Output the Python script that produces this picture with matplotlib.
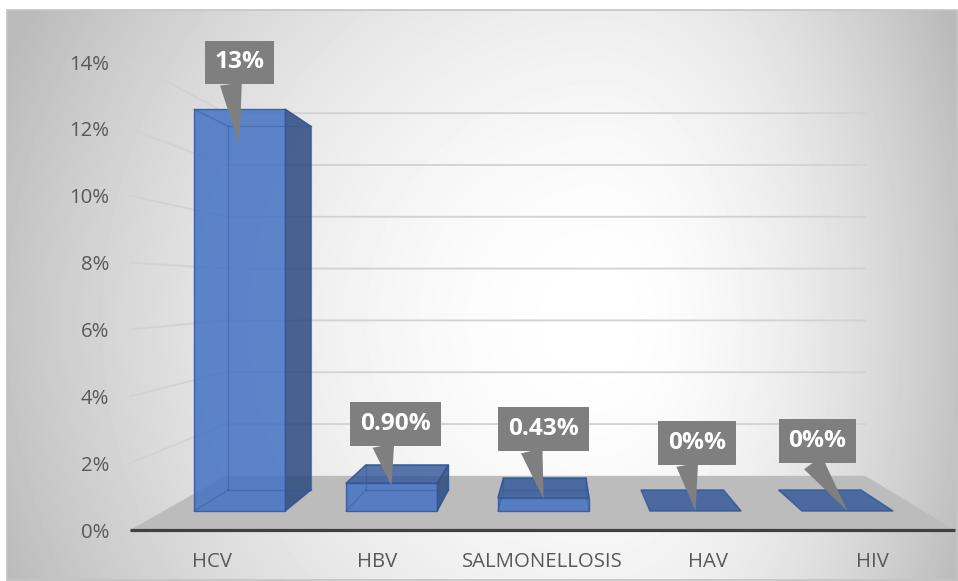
import numpy as np
import matplotlib.pyplot as plt
from matplotlib.patches import Polygon, Rectangle

categories = ['HCV', 'HBV', 'SALMONELLOSIS', 'HAV', 'HIV']
values = [13.05, 0.90, 0.43, 0.0, 0.0]          # percent
value_labels = ['13%', '0.90%', '0.43%', '0%%', '0%%']
yticks = [0, 2, 4, 6, 8, 10, 12, 14]

plt.rcParams['font.family'] = ['Open Sans', 'DejaVu Sans']

W, H = 958, 581
fig = plt.figure(figsize=(W / 100, H / 100), dpi=100)

# background gradient of the chart area
bg = fig.add_axes([0, 0, 1, 1], zorder=0)
yy, xx = np.mgrid[0:H, 0:W]
cx, cy = 600, 320
rx = np.where(xx < cx, cx - 7, 957 - cx) * 1.0
t = np.sqrt(((xx - cx) / rx) ** 2 + ((yy - cy) / 600) ** 2)
shade = 1 - 0.23 * np.clip(t, 0, 1.1) ** 1.8
img = np.ones((H, W))
inside = (xx >= 7) & (xx <= 957) & (yy >= 10) & (yy <= 580)
img[inside] = shade[inside]
bg.imshow(img, cmap='gray', vmin=0, vmax=1, extent=(0, W, H, 0), aspect='auto', interpolation='bilinear')
bg.add_patch(Rectangle((7, 10), 950, 570, fill=False, ec='#c4c4c4', lw=1.2))
bg.set_xlim(0, W)
bg.set_ylim(H, 0)
bg.axis('off')

# main axes: x in category units, y in percent (front plane)
ax = fig.add_axes([130 / W, 51 / H, 825 / W, 468 / H], zorder=1)
ax.patch.set_alpha(0)
ax.set_xlim(-0.5, 4.5)
ax.set_ylim(0, 14)

# simple perspective for the 3d look
VX, VY, SHRINK = 2.08, 7.2, 0.225
def proj(x, v, z):
    s = 1 - SHRINK * z
    return VX + s * (x - VX), VY + s * (v - VY)

# gridlines on side wall + back wall
for v in yticks[1:]:
    pts = [proj(-0.5, v, 0), proj(-0.5, v, 1), proj(4.5, v, 1)]
    ax.plot(*zip(*pts), color='#d2d2d2', lw=1.3, zorder=1, clip_on=False)

# floor
floor = [proj(-0.5, 0, 0), proj(4.5, 0, 0), proj(4.5, 0, 1), proj(-0.5, 0, 1)]
ax.add_patch(Polygon(floor, closed=True, fc='#bcbcbc', ec='none', zorder=2, clip_on=False))
ax.plot([-0.5, 4.5], [0, 0], color='#404040', lw=2.3, solid_capstyle='butt', zorder=3, clip_on=False)

# bars
HALF, Z0, Z1 = 0.3, 0.35, 0.74
for i, v in enumerate(values):
    x0, x1 = i - HALF, i + HALF
    front = [proj(x0, 0, Z0), proj(x1, 0, Z0), proj(x1, v, Z0), proj(x0, v, Z0)]
    back = [proj(x0, 0, Z1), proj(x1, 0, Z1), proj(x1, v, Z1), proj(x0, v, Z1)]
    top = [proj(x0, v, Z0), proj(x1, v, Z0), proj(x1, v, Z1), proj(x0, v, Z1)]
    right = [proj(x1, 0, Z0), proj(x1, 0, Z1), proj(x1, v, Z1), proj(x1, v, Z0)]
    left = [proj(x0, 0, Z0), proj(x0, 0, Z1), proj(x0, v, Z1), proj(x0, v, Z0)]

    if v < VY:
        ax.add_patch(Polygon(top, fc='#2F5597', alpha=0.8, ec='#2F5597', lw=1, zorder=4, clip_on=False))
    if x1 < VX and v > 0:
        ax.add_patch(Polygon(right, fc='#2B4A80', alpha=0.85, ec='#2F5597', lw=1, zorder=4, clip_on=False))
    if x0 > VX and v > 0:
        ax.add_patch(Polygon(left, fc='#2B4A80', alpha=0.85, ec='#2F5597', lw=1, zorder=4, clip_on=False))
    if v > 0:
        ax.add_patch(Polygon(front, fc='#4472C4', alpha=0.85, ec='#2F5597', lw=1, zorder=5, clip_on=False))
        # see-through edges of the box
        for a, b in zip(back, back[1:] + back[:1]):
            ax.plot([a[0], b[0]], [a[1], b[1]], color='#2F5597', lw=0.9, alpha=0.45, zorder=6, clip_on=False)
        for a, b in zip(front, back):
            ax.plot([a[0], b[0]], [a[1], b[1]], color='#2F5597', lw=0.9, alpha=0.45, zorder=6, clip_on=False)

# callout labels
label_offsets = [(0, 83), (4, 62), (0, 70), (1.5, 68), (-30, 70)]   # pixels
for i, (v, lab) in enumerate(zip(values, value_labels)):
    tip = proj(i, v * 0.91, Z0)
    dx, dy = label_offsets[i]
    ax.annotate(lab, xy=tip, xytext=(dx * 0.72, dy * 0.72), textcoords='offset points',
                ha='center', va='center', fontsize=17.6, fontweight='bold', color='white',
                bbox=dict(boxstyle='square,pad=0.4', fc='#7f7f7f', ec='none'),
                arrowprops=dict(arrowstyle='wedge,tail_width=0.9,shrink_factor=0.5',
                                fc='#7f7f7f', ec='none', shrinkA=0, shrinkB=0,
                                relpos=(0.3, 0)),
                zorder=10, annotation_clip=False)

ax.set_yticks(yticks)
ax.set_yticklabels([f'{v}%' for v in yticks])
ax.set_xticks(range(len(categories)))
ax.set_xticklabels(categories)
ax.tick_params(axis='both', length=0, labelsize=14.7, labelcolor='#595959')
ax.tick_params(axis='y', pad=15)
ax.tick_params(axis='x', pad=15.5)
for sp in ax.spines.values():
    sp.set_visible(False)

fig.savefig('out.png', dpi=100)
